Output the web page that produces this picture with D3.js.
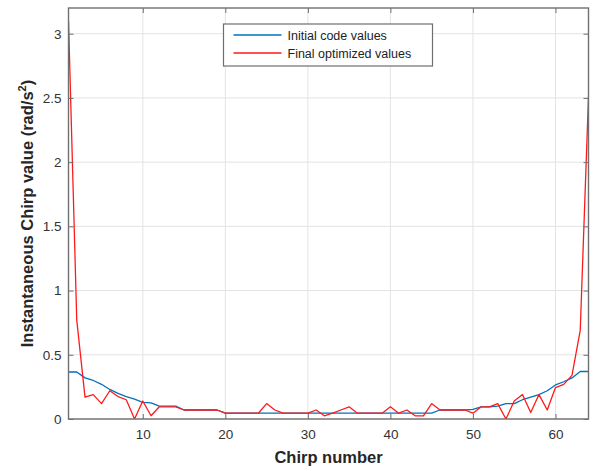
<!DOCTYPE html>
<html>
<head>
<meta charset="utf-8">
<script src="https://cdn.jsdelivr.net/npm/d3@7"></script>
<style>
  body { margin: 0; background: #fff; }
  svg { display: block; font-family: "Liberation Sans", Arial, Helvetica, sans-serif; }
</style>
</head>
<body>
<div id="chart"></div>
<script>
// chirp index 1..64
const chirps = d3.range(1, 65);

const initialValues = [
  0.366, 0.366, 0.32, 0.30, 0.27, 0.23, 0.20, 0.175, 0.155, 0.13,
  0.125, 0.10, 0.10, 0.10, 0.07, 0.07, 0.07, 0.07, 0.07, 0.045,
  0.045, 0.045, 0.045, 0.045, 0.045, 0.045, 0.045, 0.045, 0.045, 0.045,
  0.045, 0.045, 0.045, 0.045, 0.045, 0.045, 0.045, 0.045, 0.045, 0.045,
  0.045, 0.045, 0.045, 0.045, 0.045, 0.07, 0.07, 0.07, 0.07, 0.075,
  0.095, 0.095, 0.10, 0.12, 0.12, 0.15, 0.17, 0.19, 0.22, 0.265,
  0.29, 0.32, 0.37, 0.37
];

const finalValues = [
  3.1, 0.77, 0.17, 0.19, 0.12, 0.22, 0.175, 0.15, 0.0, 0.14,
  0.025, 0.095, 0.095, 0.095, 0.07, 0.07, 0.07, 0.07, 0.07, 0.045,
  0.045, 0.045, 0.045, 0.045, 0.12, 0.07, 0.045, 0.045, 0.045, 0.045,
  0.07, 0.025, 0.045, 0.07, 0.095, 0.045, 0.045, 0.045, 0.045, 0.095,
  0.045, 0.07, 0.025, 0.025, 0.12, 0.07, 0.07, 0.07, 0.07, 0.045,
  0.095, 0.095, 0.12, 0.0, 0.14, 0.19, 0.05, 0.19, 0.07, 0.245,
  0.27, 0.34, 0.69, 2.51
];

const xTicks = [10, 20, 30, 40, 50, 60];
const yTicks = [0, 0.5, 1, 1.5, 2, 2.5, 3];

const series = [
  { name: 'Initial code values', values: initialValues, color: '#0072BD' },
  { name: 'Final optimized values', values: finalValues, color: '#FF1A1A' },
];

const width = 594, height = 471;
const margin = { top: 8, right: 5.5, bottom: 52, left: 68.5 };
const innerW = width - margin.left - margin.right;
const innerH = height - margin.top - margin.bottom;

const svg = d3.select('#chart').append('svg')
  .attr('width', width)
  .attr('height', height);

const x = d3.scaleLinear().domain([1, 64]).range([0, innerW]);
const y = d3.scaleLinear().domain([0, 3.2]).range([innerH, 0]);

const g = svg.append('g').attr('transform', `translate(${margin.left},${margin.top})`);

// grid
g.append('g').selectAll('line').data(xTicks).join('line')
  .attr('x1', d => x(d)).attr('x2', d => x(d))
  .attr('y1', 0).attr('y2', innerH)
  .attr('stroke', '#e3e3e3').attr('stroke-width', 1);
g.append('g').selectAll('line').data(yTicks).join('line')
  .attr('x1', 0).attr('x2', innerW)
  .attr('y1', d => y(d)).attr('y2', d => y(d))
  .attr('stroke', '#e3e3e3').attr('stroke-width', 1);

// lines
const line = d3.line()
  .x((d, i) => x(chirps[i]))
  .y(d => y(d));

const clip = svg.append('clipPath').attr('id', 'clip')
  .append('rect').attr('width', innerW).attr('height', innerH);

g.append('g').attr('clip-path', 'url(#clip)')
  .selectAll('path').data(series).join('path')
  .attr('d', d => line(d.values))
  .attr('fill', 'none')
  .attr('stroke', d => d.color)
  .attr('stroke-width', 1.3)
  .attr('stroke-linejoin', 'round');

// axes (MATLAB box style, ticks inside)
const axisColor = '#707070';
const xAxisB = g.append('g').attr('transform', `translate(0,${innerH})`)
  .call(d3.axisBottom(x).tickValues(xTicks).tickSizeInner(-5).tickSizeOuter(0).tickPadding(10));
const xAxisT = g.append('g')
  .call(d3.axisTop(x).tickValues(xTicks).tickSizeInner(-5).tickSizeOuter(0).tickFormat(''));
const yAxisL = g.append('g')
  .call(d3.axisLeft(y).tickValues(yTicks).tickSizeInner(-5).tickSizeOuter(0).tickPadding(7).tickFormat(d3.format('')));
const yAxisR = g.append('g').attr('transform', `translate(${innerW},0)`)
  .call(d3.axisRight(y).tickValues(yTicks).tickSizeInner(-5).tickSizeOuter(0).tickFormat(''));

[xAxisB, xAxisT, yAxisL, yAxisR].forEach(a => {
  a.select('.domain').remove();
  a.selectAll('line').attr('stroke', axisColor);
  a.selectAll('text').attr('fill', '#333').attr('font-size', 13.5)
    .attr('font-family', '"Liberation Sans", Arial, sans-serif');
});

g.append('rect')
  .attr('width', innerW).attr('height', innerH)
  .attr('fill', 'none').attr('stroke', axisColor).attr('stroke-width', 1.4);

// axis labels
svg.append('text')
  .attr('x', margin.left + innerW / 2)
  .attr('y', 463)
  .attr('text-anchor', 'middle')
  .attr('font-size', 16.5).attr('font-weight', 'bold').attr('fill', '#262626')
  .text('Chirp number');

const yl = svg.append('text')
  .attr('transform', `translate(33,${margin.top + innerH / 2}) rotate(-90)`)
  .attr('text-anchor', 'middle')
  .attr('font-size', 16.5).attr('font-weight', 'bold').attr('fill', '#262626');
yl.append('tspan').text('Instantaneous Chirp value (rad/s');
yl.append('tspan').attr('dy', -7).attr('font-size', 11).text('2');
yl.append('tspan').attr('dy', 7).text(')');

// legend
const legend = svg.append('g').attr('transform', 'translate(223.5,24)');
legend.append('rect')
  .attr('width', 209).attr('height', 42)
  .attr('fill', '#fff').attr('stroke', '#6e6e6e').attr('stroke-width', 1.2);
const items = legend.selectAll('g.item').data(series).join('g')
  .attr('class', 'item')
  .attr('transform', (d, i) => `translate(0,${11 + i * 18})`);
items.append('line')
  .attr('x1', 10).attr('x2', 58)
  .attr('stroke', d => d.color).attr('stroke-width', 1.3);
items.append('text')
  .attr('x', 64).attr('y', 4.5)
  .attr('font-size', 12.5).attr('fill', '#222')
  .text(d => d.name);
</script>
</body>
</html>
